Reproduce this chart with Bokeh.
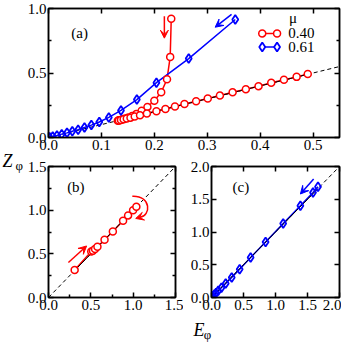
from bokeh.plotting import figure
from bokeh.models import FixedTicker, LinearAxis, Range1d, Arrow, VeeHead, Label, PrintfTickFormatter
from bokeh.layouts import column, row
from bokeh.embed import file_html
from bokeh.resources import INLINE

# ---------------- data ----------------
# panel (a), mu = 0.40
red_a_E = [0.232, 0.230, 0.224, 0.213, 0.200, 0.187, 0.176, 0.166, 0.158, 0.151, 0.145, 0.140,
           0.136, 0.133, 0.131, 0.133, 0.137, 0.142, 0.148, 0.155, 0.163, 0.173, 0.186, 0.204,
           0.221, 0.239, 0.257, 0.279, 0.301, 0.324, 0.348, 0.373, 0.397, 0.421, 0.445, 0.469, 0.490]
red_a_Z = [0.920, 0.625, 0.452, 0.350, 0.285, 0.237, 0.207, 0.183, 0.166, 0.155, 0.147, 0.141,
           0.136, 0.133, 0.130, 0.132, 0.136, 0.141, 0.147, 0.154, 0.162, 0.172, 0.186, 0.204,
           0.221, 0.240, 0.259, 0.281, 0.302, 0.325, 0.350, 0.374, 0.398, 0.424, 0.447, 0.470, 0.493]
# panel (a), mu = 0.61
blue_a_E = [0.353, 0.265, 0.204, 0.167, 0.137, 0.114, 0.096, 0.081, 0.068, 0.056, 0.045, 0.035,
            0.025, 0.016, 0.008, 0.002]
blue_a_Z = [0.915, 0.612, 0.425, 0.294, 0.210, 0.156, 0.120, 0.096, 0.077, 0.061, 0.048, 0.036,
            0.026, 0.016, 0.008, 0.002]
# panel (b)
red_b_E = [0.309, 0.505, 0.525, 0.550, 0.578, 0.662, 0.760, 0.881, 0.940, 0.999, 1.038]
red_b_Z = [0.314, 0.527, 0.535, 0.555, 0.580, 0.661, 0.756, 0.879, 0.940, 1.000, 1.039]
# panel (c)
blue_c_E = [1.664, 1.586, 1.389, 1.120, 0.845, 0.611, 0.440, 0.316, 0.222, 0.155, 0.105, 0.070,
            0.045, 0.025, 0.010, 0.002]
blue_c_Z = [1.690, 1.603, 1.400, 1.130, 0.846, 0.611, 0.433, 0.306, 0.214, 0.150, 0.102, 0.068,
            0.044, 0.024, 0.010, 0.002]

legend_labels = ["0.40", "0.61"]
a_xticks = [0.0, 0.1, 0.2, 0.3, 0.4, 0.5]
a_yticks = [0.0, 0.5, 1.0]
a_yminor = [0.25, 0.75]
b_ticks = [0.0, 0.5, 1.0, 1.5]
b_minor = [0.25, 0.75, 1.25]
c_ticks = [0.0, 0.5, 1.0, 1.5, 2.0]

FONT = "Liberation Serif"
RED = "#ff0000"
BLUE = "#0000ff"
TICK_FS = "15px"


def style_axis(ax, ticks, minor, labels=True):
    ax.ticker = FixedTicker(ticks=ticks, minor_ticks=minor)
    ax.major_tick_in = 5
    ax.major_tick_out = 0
    ax.minor_tick_in = 3
    ax.minor_tick_out = 0
    ax.axis_line_color = "black"
    ax.axis_line_width = 1.5
    ax.major_tick_line_width = 1.5
    ax.minor_tick_line_width = 1.5
    ax.formatter = PrintfTickFormatter(format="%.1f")
    ax.major_label_text_font = FONT
    ax.major_label_text_color = "black"
    if labels:
        ax.major_label_text_font_size = TICK_FS
        ax.major_label_standoff = 2
    else:
        ax.major_label_text_font_size = "0px"
        ax.major_label_standoff = 0
        ax.major_label_overrides = {t: "" for t in ticks}


def make_fig(w, h, xr, yr, bl, br, bt, bb, xt, xm, yt, ym):
    p = figure(width=w, height=h, x_range=Range1d(*xr), y_range=Range1d(*yr),
               output_backend="svg", toolbar_location=None,
               min_border_left=bl, min_border_right=br, min_border_top=bt, min_border_bottom=bb)
    p.xgrid.visible = False
    p.ygrid.visible = False
    p.outline_line_color = "black"
    p.outline_line_width = 1.5
    p.background_fill_color = "white"
    p.border_fill_color = "white"
    style_axis(p.xaxis[0], xt, xm)
    style_axis(p.yaxis[0], yt, ym)
    top = LinearAxis()
    style_axis(top, xt, xm, labels=False)
    p.add_layout(top, "above")
    right = LinearAxis()
    style_axis(right, yt, ym, labels=False)
    p.add_layout(right, "right")
    return p


def strip(w, h):
    s = figure(width=w, height=h, x_range=Range1d(0, w), y_range=Range1d(0, h),
               x_axis_type=None, y_axis_type=None, output_backend="svg", toolbar_location=None,
               min_border=0)
    s.outline_line_color = None
    s.xgrid.visible = False
    s.ygrid.visible = False
    return s


def txt(p, x, y, s, size=TICK_FS, style="normal", color="black", align="left", baseline="middle"):
    p.add_layout(Label(x=x, y=y, text=s, text_font=FONT, text_font_size=size,
                       text_font_style=style, text_color=color, text_align=align,
                       text_baseline=baseline))


# ---------------- panel (a) ----------------
pa = make_fig(317, 157, (0, 0.55), (0, 1.0), 21, 2, 8, 20,
              a_xticks, [], a_yticks, a_yminor)
pa.line([0, 0.55], [0, 0.55], line_color="black", line_dash="4 3", line_width=1)
pa.line(red_a_E, red_a_Z, line_color=RED, line_width=1.5)
pa.line(blue_a_E, blue_a_Z, line_color=BLUE, line_width=1.5)
pa.line([min(red_a_E[13:]), max(red_a_E)], [min(red_a_E[13:]), max(red_a_E)],
        line_color="black", line_width=1)
pa.scatter(red_a_E, red_a_Z, marker="circle", size=7, line_color=RED, fill_color="white", line_width=1.5)
pa.scatter(blue_a_E, blue_a_Z, marker="diamond", size=9, line_color=BLUE, fill_color=None, line_width=1.8)
# legend
pa.line([0.404, 0.432], [0.807, 0.807], line_color=RED, line_width=1.5)
pa.scatter([0.404, 0.432], [0.807, 0.807], marker="circle", size=7, line_color=RED, fill_color="white", line_width=1.5)
pa.line([0.404, 0.432], [0.701, 0.701], line_color=BLUE, line_width=1.5)
pa.scatter([0.404, 0.432], [0.701, 0.701], marker="diamond", size=9, line_color=BLUE, fill_color="white", line_width=1.8)
txt(pa, 0.453, 0.807, legend_labels[0])
txt(pa, 0.453, 0.701, legend_labels[1])
txt(pa, 0.462, 0.925, "\u03bc", align="center")
txt(pa, 0.043, 0.809, "(a)")
pa.add_layout(Arrow(end=VeeHead(size=8, line_color=RED, fill_color=RED), x_start=0.219, y_start=0.94,
                    x_end=0.219, y_end=0.77, line_color=RED, line_width=1.5))
pa.add_layout(Arrow(end=VeeHead(size=8, line_color=BLUE, fill_color=BLUE), x_start=0.346, y_start=0.954,
                    x_end=0.315, y_end=0.855, line_color=BLUE, line_width=1.5))

# ---------------- panel (b) ----------------
pb = make_fig(159, 158, (0, 1.5), (0, 1.5), 24, 8, 9, 18,
              b_ticks, b_minor, b_ticks, b_minor)
pb.line([0, 1.5], [0, 1.5], line_color="black", line_dash="4 3", line_width=1)
pb.line(red_b_E, red_b_Z, line_color=RED, line_width=1.5)
pb.line([min(red_b_E), max(red_b_E)], [min(red_b_E), max(red_b_E)], line_color="black", line_width=1)
pb.scatter(red_b_E, red_b_Z, marker="circle", size=7, line_color=RED, fill_color="white", line_width=1.5)
txt(pb, 0.22, 1.26, "(b)")
pb.add_layout(Arrow(end=VeeHead(size=8, line_color=RED, fill_color=RED), x_start=0.235, y_start=0.40,
                    x_end=0.45, y_end=0.59, line_color=RED, line_width=1.5))
pb.bezier(x0=[0.99], y0=[1.16], x1=[1.08], y1=[0.92], cx0=[1.22], cy0=[1.17],
          cx1=[1.21], cy1=[0.93], line_color=RED, line_width=1.5)
pb.add_layout(Arrow(end=VeeHead(size=8, line_color=RED, fill_color=RED), x_start=1.09, y_start=0.922,
                    x_end=1.03, y_end=0.905, line_color=RED, line_width=1.5))

# ---------------- panel (c) ----------------
pc = make_fig(158, 158, (0, 2.0), (0, 2.0), 28, 2, 9, 18,
              c_ticks, [], c_ticks, [])
pc.line([0, 2.0], [0, 2.0], line_color="black", line_dash="4 3", line_width=1)
pc.line(blue_c_E, blue_c_Z, line_color=BLUE, line_width=1.5)
pc.line([0, max(blue_c_E)], [0, max(blue_c_E)], line_color="black", line_width=1)
pc.scatter(blue_c_E, blue_c_Z, marker="diamond", size=9, line_color=BLUE, fill_color=None, line_width=1.8)
txt(pc, 0.33, 1.68, "(c)")
pc.add_layout(Arrow(end=VeeHead(size=8, line_color=BLUE, fill_color=BLUE), x_start=1.596, y_start=1.81,
                    x_end=1.389, y_end=1.58, line_color=BLUE, line_width=1.5))

# ---------------- axis titles (text strips outside the frames) ----------------
sz = strip(24, 343)
txt(sz, 2, 183, "Z", size="18px", style="italic", baseline="alphabetic")
txt(sz, 15, 178, "\u03c6", size="13px", baseline="alphabetic")

se = strip(317, 28)
txt(se, 158, 14, "E", size="18px", style="italic", baseline="alphabetic")
txt(se, 169, 9, "\u03c6", size="13px", baseline="alphabetic")

layout = row(sz, column(pa, row(pb, pc), se))
open("out.html", "w").write(file_html(layout, INLINE))
